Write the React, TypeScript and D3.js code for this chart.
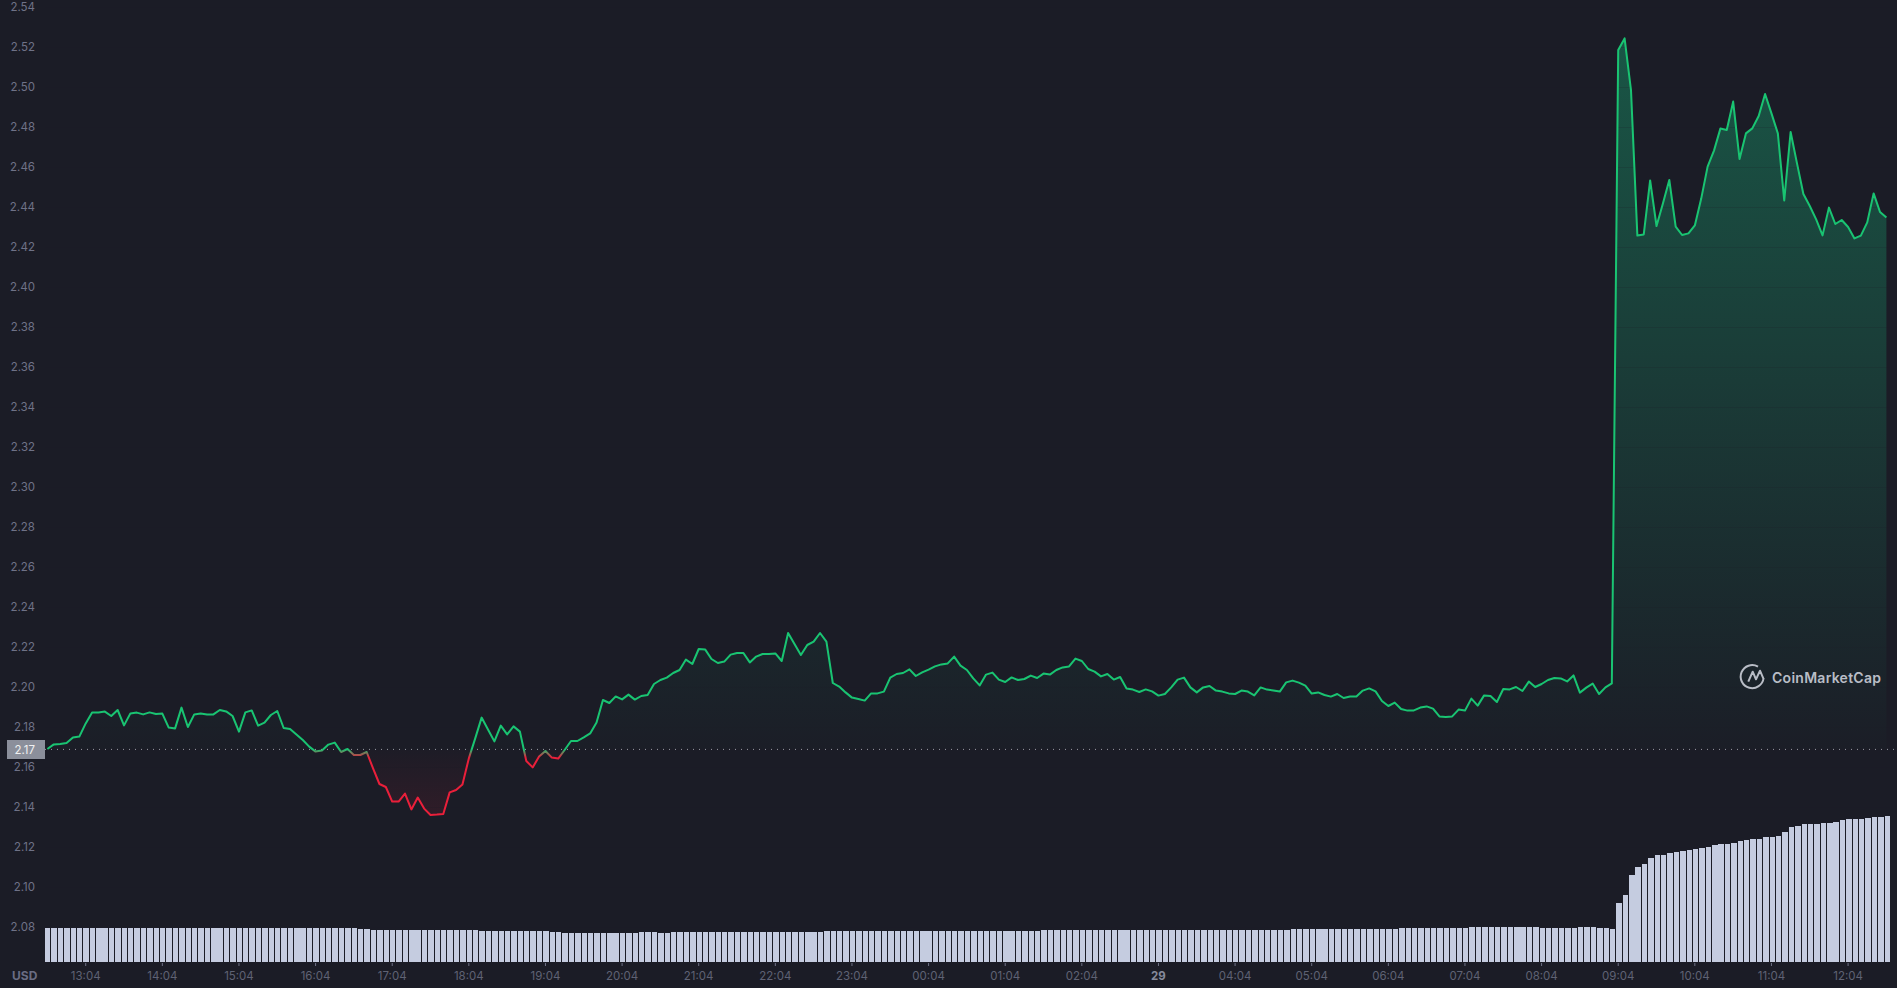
import { scaleBand, scaleLinear, line as d3_line, area as d3_area } from "d3";

const prices = [
  2.169, 2.1713, 2.1715, 2.172, 2.1748, 2.1752, 2.1818, 2.1872, 2.1873, 2.1877, 2.1855, 2.1885,
  2.1808, 2.1868, 2.1872, 2.1863, 2.1873, 2.1865, 2.1867, 2.1797, 2.1793, 2.1897, 2.18, 2.1863,
  2.1867, 2.1862, 2.1863, 2.1885, 2.1878, 2.1855, 2.1777, 2.1873, 2.1883, 2.1807, 2.1822, 2.186,
  2.188, 2.1795, 2.179, 2.1763, 2.1735, 2.1702, 2.1677, 2.1682, 2.1712, 2.1722, 2.1675, 2.169,
  2.166, 2.166, 2.1675, 2.1593, 2.1515, 2.15, 2.1427, 2.1427, 2.1467, 2.1388, 2.1447, 2.1392,
  2.136, 2.1362, 2.1365, 2.1473, 2.1485, 2.1513, 2.1643, 2.1743, 2.1847, 2.1788, 2.1728, 2.1807,
  2.1763, 2.1803, 2.1777, 2.163, 2.1598, 2.1652, 2.168, 2.1647, 2.1642, 2.1685, 2.173, 2.173,
  2.1748, 2.1768, 2.1823, 2.1935, 2.192, 2.1953, 2.1938, 2.1962, 2.1937, 2.1955, 2.196, 2.2015,
  2.2035, 2.2047, 2.207, 2.2085, 2.2137, 2.2115, 2.219, 2.2188, 2.214, 2.212, 2.2127, 2.2162,
  2.217, 2.217, 2.2123, 2.2152, 2.2165, 2.2165, 2.2168, 2.213, 2.227, 2.2215, 2.216, 2.221,
  2.2227, 2.227, 2.2227, 2.202, 2.2002, 2.1973, 2.1947, 2.194, 2.1932, 2.1968, 2.1968, 2.1977,
  2.2047, 2.2065, 2.207, 2.2088, 2.2055, 2.2073, 2.2087, 2.2103, 2.2113, 2.2118, 2.2152, 2.2107,
  2.2085, 2.2043, 2.2008, 2.2062, 2.2072, 2.2037, 2.2025, 2.2048, 2.2035, 2.204, 2.2057, 2.2045,
  2.2067, 2.2062, 2.2085, 2.2098, 2.2103, 2.2142, 2.213, 2.209, 2.2077, 2.2053, 2.2065, 2.2037,
  2.205, 2.1993, 2.1987, 2.1975, 2.1988, 2.1978, 2.1957, 2.1965, 2.1998, 2.2037, 2.2047, 2.1998,
  2.1973, 2.1998, 2.2005, 2.1982, 2.1977, 2.1968, 2.1965, 2.1982, 2.1977, 2.1958, 2.1998, 2.1987,
  2.1983, 2.1977, 2.2023, 2.2032, 2.2022, 2.2007, 2.1967, 2.1973, 2.196, 2.1952, 2.1965, 2.1945,
  2.1952, 2.1953, 2.1982, 2.1993, 2.1978, 2.193, 2.1905, 2.1922, 2.189, 2.1882, 2.1883, 2.1897,
  2.1903, 2.1892, 2.1853, 2.185, 2.1853, 2.1887, 2.1882, 2.1942, 2.1907, 2.1958, 2.1955, 2.1925,
  2.199, 2.1988, 2.2, 2.198, 2.2027, 2.2, 2.2015, 2.2035, 2.2045, 2.2043, 2.2028, 2.2058,
  2.1972, 2.1997, 2.2017, 2.1965, 2.1998, 2.2018, 2.5185, 2.5243, 2.4985, 2.4257, 2.4263, 2.4533,
  2.4305, 2.4418, 2.4535, 2.4302, 2.426, 2.4268, 2.4308, 2.4442, 2.4602, 2.4682, 2.4792, 2.4785,
  2.4927, 2.464, 2.4768, 2.4793, 2.4855, 2.4965, 2.4868, 2.4768, 2.4433, 2.4775, 2.4618, 2.4465,
  2.4405, 2.4338, 2.4258, 2.4397, 2.4315, 2.4335, 2.43, 2.4243, 2.4257, 2.4323, 2.4468, 2.4375,
  2.4348,
];

// relative traded volume
const volumes = [
  34, 34, 34, 34, 34, 34, 34, 34, 34, 34, 34, 34, 34, 34, 34, 34, 34, 34, 34, 34, 34, 34, 34, 34,
  34, 34, 34, 34, 34, 34, 34, 34, 34, 34, 34, 34, 34, 34, 34, 34, 34, 34, 34, 34, 34, 34, 34, 34,
  34, 33, 33, 32, 32, 32, 32, 32, 32, 32, 32, 32, 32, 32, 32, 32, 32, 32, 32, 32, 31, 31, 31, 31,
  31, 31, 31, 31, 31, 31, 31, 30, 30, 29, 29, 29, 29, 29, 29, 29, 29, 29, 29, 29, 29, 30, 30, 30,
  29, 29, 30, 30, 30, 30, 30, 30, 30, 30, 30, 30, 30, 30, 30, 30, 30, 30, 30, 30, 30, 30, 30, 30,
  30, 30, 31, 31, 31, 31, 31, 31, 31, 31, 31, 31, 31, 31, 31, 31, 31, 31, 31, 31, 31, 31, 31, 31,
  31, 31, 31, 31, 31, 31, 31, 31, 31, 31, 31, 31, 32, 32, 32, 32, 32, 32, 32, 32, 32, 32, 32, 32,
  32, 32, 32, 32, 32, 32, 32, 32, 32, 32, 32, 32, 32, 32, 32, 32, 32, 32, 32, 32, 32, 32, 32, 32,
  32, 32, 32, 33, 33, 33, 33, 33, 33, 33, 33, 33, 33, 33, 33, 33, 33, 33, 33, 33, 34, 34, 34, 34,
  34, 34, 34, 34, 34, 34, 34, 35, 35, 35, 35, 35, 35, 35, 35, 35, 35, 35, 34, 34, 34, 34, 34, 34,
  35, 35, 35, 34, 34, 33, 59, 67, 87, 95, 98, 104, 107, 107, 109, 110, 111, 112, 113, 114, 115, 117, 118, 118,
  119, 121, 122, 123, 123, 125, 125, 126, 130, 135, 136, 138, 138, 138, 139, 139, 140, 142, 143, 143, 143, 144, 145, 145,
  146,
];

const priceTicks = [
  2.08, 2.1, 2.12, 2.14, 2.16, 2.18, 2.2, 2.22, 2.24, 2.26, 2.28, 2.3, 2.32, 2.34, 2.36, 2.38, 2.4,
  2.42, 2.44, 2.46, 2.48, 2.5, 2.52, 2.54,
];
const timeLabels = [
  "13:04", "14:04", "15:04", "16:04", "17:04", "18:04", "19:04", "20:04", "21:04", "22:04", "23:04",
  "00:04", "01:04", "02:04", "29", "04:04", "05:04", "06:04", "07:04", "08:04", "09:04", "10:04",
  "11:04", "12:04",
];
const basePrice = 2.1688;

const WIDTH = 1897;
const HEIGHT = 988;
const BG = "#1b1c26";
const GREEN = "#16c784";
const LINE_GREEN = "#19c472";
const RED = "#ea1f3a";
const FONT = "Inter, 'Noto Sans', sans-serif";

export default function App() {
  const indexes = prices.map((_, i) => i);

  const x = scaleLinear().domain([0, 288]).range([47.4, 1886.4]);
  const y = scaleLinear().domain([2.08, 2.54]).range([927, 7]);
  const barX = scaleBand<number>().domain(indexes).range([45, 1890]).paddingInner(0.15).paddingOuter(0);
  const barY = scaleLinear().domain([0, 146]).range([962, 816]);

  const baseY = y(basePrice);

  const line = d3_line<number>()
    .x((_, i) => x(i))
    .y((d) => y(d));
  const area = d3_area<number>()
    .x((_, i) => x(i))
    .y0(baseY)
    .y1((d) => y(d));

  return (
    <svg
      width={WIDTH}
      height={HEIGHT}
      style={{ position: "fixed", left: 0, top: 0, background: BG, display: "block" }}
      fontFamily={FONT}
    >
      <defs>
        <linearGradient id="lineColor" gradientUnits="userSpaceOnUse" x1="0" x2="0" y1={baseY} y2={baseY + 8}>
          <stop offset="0" stopColor={LINE_GREEN} />
          <stop offset="1" stopColor={RED} />
        </linearGradient>
        <linearGradient id="upFill" gradientUnits="userSpaceOnUse" x1="0" x2="0" y1={y(2.5243)} y2={baseY}>
          <stop offset="0" stopColor={GREEN} stopOpacity="0.34" />
          <stop offset="1" stopColor={GREEN} stopOpacity="0.01" />
        </linearGradient>
        <linearGradient id="downFill" gradientUnits="userSpaceOnUse" x1="0" x2="0" y1={baseY} y2={y(2.136)}>
          <stop offset="0" stopColor={RED} stopOpacity="0.01" />
          <stop offset="1" stopColor={RED} stopOpacity="0.1" />
        </linearGradient>
        <clipPath id="aboveBase">
          <rect x="0" y="0" width={WIDTH} height={baseY} />
        </clipPath>
        <clipPath id="belowBase">
          <rect x="0" y={baseY} width={WIDTH} height={HEIGHT - baseY} />
        </clipPath>
      </defs>

      {/* Area fills */}
      <path d={area(prices) ?? ""} fill="url(#upFill)" clipPath="url(#aboveBase)" />
      <path d={area(prices) ?? ""} fill="url(#downFill)" clipPath="url(#belowBase)" />

      {/* Grid lines only show over the fill */}
      {priceTicks.map((t) => (
        <line
          key={t}
          x1={45}
          x2={1890}
          y1={Math.round(y(t)) + 0.5}
          y2={Math.round(y(t)) + 0.5}
          stroke={BG}
          strokeOpacity={0.18}
        />
      ))}

      {/* Base price line */}
      <line x1={45} x2={1897} y1={baseY} y2={baseY} stroke="#9a9ca6" strokeDasharray="1 5" />

      {/* Price line */}
      <path d={line(prices) ?? ""} fill="none" stroke="url(#lineColor)" strokeWidth={2} strokeLinejoin="round" />

      {/* Volume bars */}
      {volumes.map((v, i) => (
        <rect
          key={i}
          x={barX(i)}
          y={barY(v)}
          width={barX.bandwidth()}
          height={barY(0) - barY(v)}
          fill="#c5cce0"
          shapeRendering="crispEdges"
        />
      ))}

      {/* Price axis */}
      {priceTicks.map((t) => (
        <text key={t} x={35} y={y(t)} dy="0.35em" textAnchor="end" fontSize={11.5} fill="#6f7287">
          {t.toFixed(2)}
        </text>
      ))}
      <rect x={7} y={740} width={38} height={19} fill="#8b8f9b" />
      <text x={35} y={749.5} dy="0.35em" textAnchor="end" fontSize={11.5} fill="#f0f0f0">
        {(2.17).toFixed(2)}
      </text>

      {/* Time axis */}
      {timeLabels.map((label, k) => {
        const tx = x(6 + 12 * k);
        return (
          <g key={label}>
            <line x1={tx} x2={tx} y1={963} y2={966} stroke="#6f7287" />
            <text
              x={tx}
              y={976}
              dy="0.35em"
              textAnchor="middle"
              fontSize={11.5}
              fontWeight={label === "29" ? 700 : 400}
              fill={label === "29" ? "#868a9c" : "#5f6274"}
            >
              {label}
            </text>
          </g>
        );
      })}
      <text x={12} y={976} dy="0.35em" fontSize={12} fontWeight={700} fill="#6a6d83">
        USD
      </text>

      {/* CoinMarketCap mark */}
      <g fill="none" stroke="#b9bdc6" strokeWidth={2}>
        <path d="M1763.6 678 A11.5 11.5 0 1 1 1758 666.7" />
        <path d="M1748.3 681.7 L1752.7 671.7 L1756 679.3 L1760 670.7 L1763.3 678.3" strokeLinejoin="round" />
      </g>
      <text x={1772} y={678} dy="0.35em" fontSize={14} fontWeight={600} fill="#b9bdc6" textLength={109}>
        CoinMarketCap
      </text>
    </svg>
  );
}
